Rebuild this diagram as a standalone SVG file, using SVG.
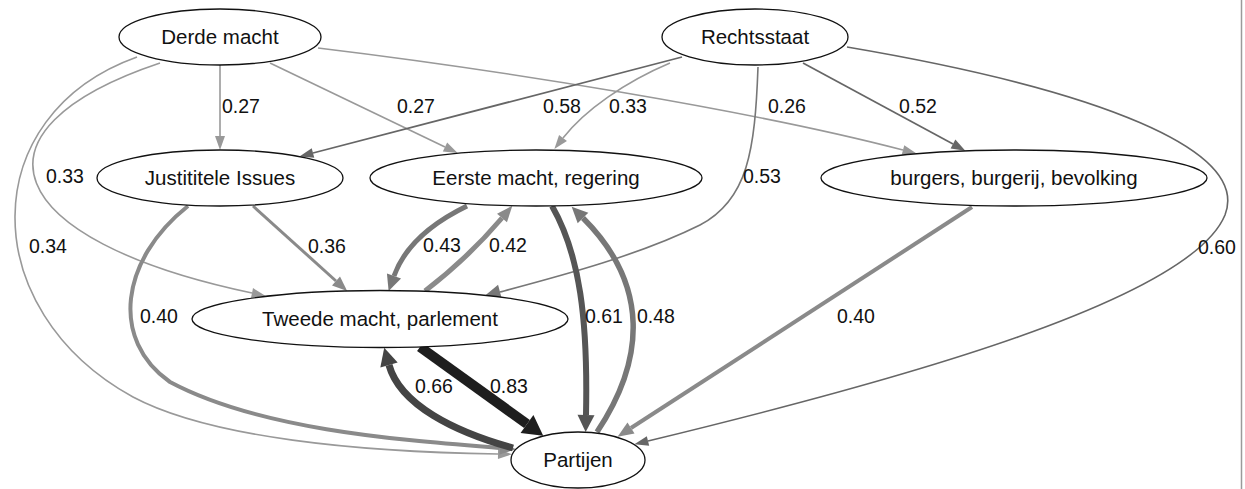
<svg xmlns="http://www.w3.org/2000/svg" width="1245" height="489" viewBox="0 0 1245 489">
<style>
.node ellipse{fill:#fff;stroke:#111;stroke-width:1.3}
.node text{font-family:"Liberation Sans",Arial,sans-serif;font-size:20.5px;fill:#111;text-anchor:middle}
.lbl{font-family:"Liberation Sans",Arial,sans-serif;font-size:19.5px;fill:#111}
.e{fill:none}
.c9{stroke:#999}
.c8{stroke:#8a8a8a}
.c7{stroke:#777}
.c6{stroke:#666}
.c5{stroke:#555}
.c4{stroke:#444}
.c2{stroke:#1e1e1e}
</style>
<defs>
<marker id="m9" markerUnits="userSpaceOnUse" markerWidth="20" markerHeight="20" refX="0" refY="5" orient="auto" overflow="visible"><path d="M0,0 L14,5 L0,10 z" fill="#999"/></marker>
<marker id="m6" markerUnits="userSpaceOnUse" markerWidth="20" markerHeight="20" refX="0" refY="5" orient="auto" overflow="visible"><path d="M0,0 L14,5 L0,10 z" fill="#666"/></marker>
<marker id="m8a" markerUnits="userSpaceOnUse" markerWidth="20" markerHeight="20" refX="0" refY="6" orient="auto" overflow="visible"><path d="M0,0 L15,6 L0,12 z" fill="#8a8a8a"/></marker>
<marker id="m8b" markerUnits="userSpaceOnUse" markerWidth="20" markerHeight="20" refX="0" refY="6.5" orient="auto" overflow="visible"><path d="M0,0 L16,6.5 L0,13 z" fill="#8a8a8a"/></marker>
<marker id="m7" markerUnits="userSpaceOnUse" markerWidth="20" markerHeight="20" refX="0" refY="7.5" orient="auto" overflow="visible"><path d="M0,0 L16,7.5 L0,15 z" fill="#777"/></marker>
<marker id="m5" markerUnits="userSpaceOnUse" markerWidth="20" markerHeight="20" refX="0" refY="8.5" orient="auto" overflow="visible"><path d="M0,0 L17,8.5 L0,17 z" fill="#555"/></marker>
<marker id="m4" markerUnits="userSpaceOnUse" markerWidth="20" markerHeight="20" refX="0" refY="9" orient="auto" overflow="visible"><path d="M0,0 L18,9 L0,18 z" fill="#444"/></marker>
<marker id="m2" markerUnits="userSpaceOnUse" markerWidth="24" markerHeight="24" refX="0" refY="11" orient="auto" overflow="visible"><path d="M0,0 L20,11 L0,22 z" fill="#1e1e1e"/></marker>
</defs>
<line x1="1241.5" y1="0" x2="1241.5" y2="489" stroke="#9a9a9a" stroke-width="1.5"/>
<g id="connectors">
<path class="e c9" stroke-width="1.6" marker-end="url(#m9)" d="M220,65 L220,136"/>
<path class="e c9" stroke-width="1.6" marker-end="url(#m9)" d="M270,63 L445,147"/>
<path class="e c9" stroke-width="1.6" marker-end="url(#m9)" d="M318,48 C500,70 750,110 903,150"/>
<path class="e c9" stroke-width="1.6" marker-end="url(#m9)" d="M160,63 C-40,130 0,240 252,293"/>
<path class="e c9" stroke-width="1.6" marker-end="url(#m9)" d="M137,57 C-25,115 -25,310 133,397 C210,438 360,452 498,454"/>
<path class="e c8" stroke-width="4" marker-end="url(#m8b)" d="M188,206 C120,260 110,340 170,382 C260,430 400,440 500,448"/>
<path class="e c8" stroke-width="3" marker-end="url(#m8a)" d="M253,206 L336,281"/>
<path class="e c6" stroke-width="1.7" marker-end="url(#m6)" d="M682,57 L313,153"/>
<path class="e c9" stroke-width="1.6" marker-end="url(#m9)" d="M670,63 C625,82 585,110 563,138"/>
<path class="e c6" stroke-width="1.7" marker-end="url(#m6)" d="M803,63 L953,144"/>
<path class="e c7" stroke-width="1.6" marker-end="url(#m7)" d="M758,67 C755,150 748,200 700,225 C640,255 560,276 500,292"/>
<path class="e c6" stroke-width="1.6" marker-end="url(#m6)" d="M847,47 C1100,90 1250,150 1225,215 C1190,300 900,380 648,441"/>
<path class="e c8" stroke-width="4" marker-end="url(#m8b)" d="M972,207 L631,428"/>
<path class="e c7" stroke-width="5" marker-end="url(#m7)" d="M467,206 C430,224 404,248 394,276"/>
<path class="e c8" stroke-width="5" marker-end="url(#m8b)" d="M425,291 Q468,258 502,218"/>
<path class="e c5" stroke-width="6" marker-end="url(#m5)" d="M552,206 C580,255 588,320 586,415"/>
<path class="e c7" stroke-width="5.5" marker-end="url(#m7)" d="M597,432 C645,360 650,285 583,218"/>
<path class="e c2" stroke-width="10" marker-end="url(#m2)" d="M420,347 L527,424"/>
<path class="e c4" stroke-width="7" marker-end="url(#m4)" d="M513,448 C455,432 400,405 389,365"/>
</g>
<g id="labels">
<text class="lbl" x="222" y="113">0.27</text>
<text class="lbl" x="397" y="113">0.27</text>
<text class="lbl" x="543" y="113">0.58</text>
<text class="lbl" x="609" y="113">0.33</text>
<text class="lbl" x="768" y="113">0.26</text>
<text class="lbl" x="899" y="113">0.52</text>
<text class="lbl" x="46" y="183">0.33</text>
<text class="lbl" x="743" y="183">0.53</text>
<text class="lbl" x="29" y="253">0.34</text>
<text class="lbl" x="308" y="253">0.36</text>
<text class="lbl" x="423" y="252">0.43</text>
<text class="lbl" x="489" y="252">0.42</text>
<text class="lbl" x="1198" y="254">0.60</text>
<text class="lbl" x="140" y="323">0.40</text>
<text class="lbl" x="585" y="323">0.61</text>
<text class="lbl" x="637" y="323">0.48</text>
<text class="lbl" x="837" y="323">0.40</text>
<text class="lbl" x="415" y="393">0.66</text>
<text class="lbl" x="490" y="393">0.83</text>
</g>
<g id="n-derde" class="node"><ellipse cx="220" cy="37" rx="101" ry="28"/><text x="220" y="44">Derde macht</text></g>
<g id="n-rechtsstaat" class="node"><ellipse cx="755" cy="37" rx="93" ry="28"/><text x="755" y="44">Rechtsstaat</text></g>
<g id="n-justitele" class="node"><ellipse cx="220" cy="178" rx="123" ry="28"/><text x="220" y="185">Justititele Issues</text></g>
<g id="n-eerste" class="node"><ellipse cx="536" cy="178" rx="166" ry="28"/><text x="536" y="185">Eerste macht, regering</text></g>
<g id="n-burgers" class="node"><ellipse cx="1014" cy="178" rx="193" ry="28"/><text x="1014" y="185">burgers, burgerij, bevolking</text></g>
<g id="n-tweede" class="node"><ellipse cx="380" cy="319" rx="188" ry="28.5"/><text x="380" y="326">Tweede macht, parlement</text></g>
<g id="n-partijen" class="node"><ellipse cx="578" cy="460" rx="67" ry="28"/><text x="578" y="467">Partijen</text></g>
</svg>
